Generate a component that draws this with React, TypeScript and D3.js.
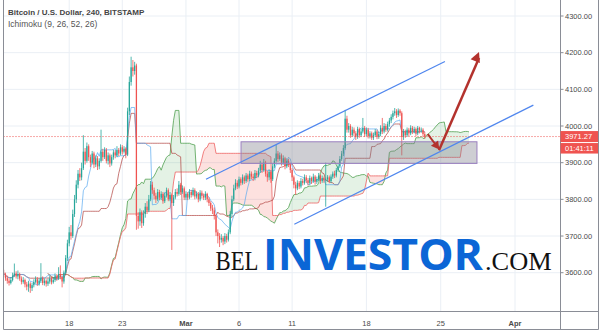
import React from "react";
import * as d3 from "d3";

const W = 600;
const H = 330;

// 4H candles, first candle 2019-02-11 20:00 UTC
const START = Date.UTC(2019, 1, 11, 20);
const STEP = 4 * 3600 * 1000;
const OPEN0 = 3600;

const closes = [
  3595, 3585, 3578, 3572, 3580, 3592, 3598, 3590, 3596,
  3584, 3575, 3580, 3568, 3562, 3570, 3558, 3566,
  3575, 3582, 3570, 3578, 3585, 3572,
  3578, 3570, 3576, 3584, 3574, 3580,
  3590, 3584, 3596, 3588, 3576,
  3600, 3640, 3680, 3710, 3700,
  3760, 3800, 3840, 3870, 3860, 3885,
  3930, 3905, 3945, 3915,
  3900, 3925, 3895, 3912, 3890, 3905,
  3930, 3915, 3935, 3905, 3920, 3898, 3915, 3928,
  3920, 3935, 3925, 3942, 3930, 3938, 3922,
  4040, 4120, 4160, 4150, 4165, 3755,
  3740, 3765, 3735, 3760, 3780, 3770, 3800, 3840, 3825,
  3810, 3800, 3820, 3805, 3815, 3795, 3810, 3825, 3800, 3812,
  3790, 3805, 3820, 3815, 3840, 3820, 3830, 3805,
  3815, 3805, 3820, 3812, 3825, 3808, 3815, 3800, 3818, 3810, 3805, 3815, 3800,
  3790, 3775, 3770, 3755, 3710, 3700, 3690, 3695,
  3685, 3700, 3690, 3710, 3760, 3800, 3830,
  3845, 3835, 3855, 3845,
  3860, 3850, 3865, 3855, 3870, 3862, 3858, 3872, 3865, 3878,
  3895, 3880, 3900, 3870, 3860, 3875, 3855, 3890, 3905,
  3925, 3910, 3920, 3900, 3912, 3890, 3905, 3895, 3880, 3860,
  3840, 3830, 3845, 3835,
  3850, 3845, 3860, 3852, 3845, 3858, 3850, 3862, 3848, 3855, 3865, 3850, 3858, 3852,
  3855, 3860, 3850, 3862, 3870, 3865, 3880, 3890,
  3910, 3925, 3940, 4020,
  3990, 4000, 3975, 3990, 3980, 3970, 3992, 3975, 3985,
  3995, 3978, 3990, 3972, 3980, 3968, 3975, 3985, 3970, 3978,
  3995, 3985, 4000, 3990, 4005, 4015, 4025, 4035,
  4040, 4030, 4042, 4035, 3970,
  3985, 3975, 3990, 3980, 3995, 3985, 3992, 3980,
  3995, 3988, 3990, 3978, 3971.27,
];

const highs = [
  3608, 3600, 3592, 3585, 3588, 3600, 3625, 3604, 3606,
  3600, 3590, 3588, 3584, 3575, 3578, 3574, 3572,
  3582, 3590, 3588, 3585, 3626, 3590,
  3584, 3582, 3584, 3592, 3588, 3588,
  3598, 3596, 3615, 3620, 3592,
  3606, 3648, 3690, 3725, 3730,
  3772, 3812, 3852, 3880, 3885, 3900,
  3975, 3940, 3955, 3950,
  3922, 3932, 3930, 3920, 3918, 3912,
  3990, 3938, 3942, 3940, 3928, 3925, 3922, 3935,
  3934, 3945, 3940, 3950, 3948, 3945, 3942,
  4050, 4135, 4189, 4180, 4175, 4170,
  3765, 3775, 3770, 3770, 3790, 3795, 3812, 3850, 3848,
  3832, 3818, 3828, 3826, 3822, 3820, 3818, 3832, 3830, 3820,
  3816, 3812, 3828, 3830, 3850, 3845, 3838, 3835,
  3822, 3820, 3828, 3826, 3832, 3830, 3822, 3820, 3825, 3824, 3816, 3822, 3818,
  3806, 3795, 3785, 3778, 3760, 3718, 3708, 3705,
  3700, 3708, 3706, 3718, 3768, 3810, 3840,
  3855, 3852, 3862, 3860,
  3868, 3865, 3872, 3870, 3878, 3876, 3870, 3880, 3878, 3886,
  3905, 3900, 3910, 3905, 3878, 3882, 3880, 3898, 3912,
  3948, 3932, 3928, 3925, 3920, 3916, 3912, 3910, 3900, 3885,
  3865, 3848, 3852, 3850,
  3858, 3856, 3868, 3866, 3858, 3865, 3862, 3870, 3866, 3862, 3872, 3868, 3865, 3862,
  3900, 3866, 3865, 3868, 3876, 3878, 3886, 3898,
  3918, 3932, 3948, 4044,
  4028, 4008, 4005, 3998, 3996, 3986, 3998, 3996, 3992,
  4022, 4000, 3996, 3995, 3986, 3985, 3982, 3992, 3990, 3985,
  4002, 4022, 4008, 4006, 4012, 4022, 4032, 4042,
  4049, 4046, 4048, 4046, 4040,
  3992, 3990, 3996, 3995, 4002, 4000, 3998, 3996,
  4000, 3998, 3996, 3994, 3984,
];

const lows = [
  3588, 3578, 3570, 3565, 3568, 3576, 3588, 3584, 3582,
  3578, 3568, 3570, 3560, 3552, 3548, 3545, 3550,
  3560, 3570, 3564, 3565, 3572, 3566,
  3565, 3562, 3564, 3570, 3568, 3570,
  3575, 3578, 3580, 3582, 3560,
  3570, 3595, 3632, 3672, 3690,
  3695, 3752, 3790, 3830, 3850, 3852,
  3880, 3895, 3900, 3905,
  3888, 3895, 3885, 3888, 3880, 3882,
  3900, 3905, 3910, 3898, 3895, 3888, 3892, 3908,
  3912, 3915, 3918, 3920, 3922, 3925, 3912,
  3918, 4030, 4110, 4135, 4140, 3717,
  3720, 3728, 3722, 3728, 3750, 3760, 3765, 3795, 3815,
  3800, 3790, 3795, 3798, 3798, 3788, 3790, 3805, 3795, 3795,
  3662, 3782, 3800, 3808, 3810, 3812, 3815, 3798,
  3798, 3798, 3800, 3805, 3808, 3800, 3802, 3792, 3795, 3802, 3798, 3798, 3792,
  3782, 3768, 3760, 3745, 3700, 3680, 3670, 3682,
  3675, 3678, 3682, 3685, 3705, 3752, 3795,
  3825, 3828, 3830, 3838,
  3840, 3842, 3845, 3848, 3850, 3855, 3850, 3852, 3858, 3860,
  3872, 3872, 3875, 3862, 3848, 3852, 3845, 3850, 3885,
  3900, 3902, 3905, 3892, 3895, 3882, 3885, 3888, 3872, 3850,
  3830, 3812, 3825, 3828,
  3830, 3838, 3840, 3845, 3838, 3840, 3842, 3845, 3840, 3842, 3850, 3842, 3845, 3845,
  3780, 3848, 3844, 3845, 3856, 3858, 3860, 3875,
  3885, 3905, 3918, 3935,
  3982, 3982, 3968, 3970, 3972, 3962, 3965, 3968, 3970,
  3980, 3970, 3972, 3966, 3966, 3962, 3962, 3970, 3964, 3965,
  3972, 3978, 3980, 3984, 3985, 3998, 4008, 4018,
  4028, 4022, 4025, 4028, 3920,
  3962, 3968, 3970, 3972, 3975, 3978, 3980, 3972,
  3975, 3980, 3982, 3970, 3965,
];

const lastPrice = 3971.27;
const countdown = "01:41:11";
const title = "Bitcoin / U.S. Dollar, 240, BITSTAMP";
const subtitle = "Ichimoku (9, 26, 52, 26)";
const ichimokuParams = [9, 26, 52, 26];

const priceTicks = [3600, 3700, 3800, 3900, 4000, 4100, 4200, 4300];
const dateTicks = [
  { t: Date.UTC(2019, 1, 18), label: "18", bold: false },
  { t: Date.UTC(2019, 1, 23), label: "23", bold: false },
  { t: Date.UTC(2019, 2, 1), label: "Mar", bold: true },
  { t: Date.UTC(2019, 2, 6), label: "6", bold: false },
  { t: Date.UTC(2019, 2, 11), label: "11", bold: false },
  { t: Date.UTC(2019, 2, 18), label: "18", bold: false },
  { t: Date.UTC(2019, 2, 25), label: "25", bold: false },
  { t: Date.UTC(2019, 3, 1), label: "Apr", bold: true },
];

// drawings (time, price)
const channelUpper = [
  { t: Date.UTC(2019, 2, 2, 21, 20), p: 3855 },
  { t: Date.UTC(2019, 2, 25, 9, 36), p: 4176 },
];
const channelLower = [
  { t: Date.UTC(2019, 2, 11, 5, 0), p: 3732 },
  { t: Date.UTC(2019, 3, 2, 17, 30), p: 4057 },
];
const zoneBox = { t0: Date.UTC(2019, 2, 6, 4, 30), t1: Date.UTC(2019, 2, 28, 10, 0), p0: 3898, p1: 3957 };
const smallArrow = [
  { t: Date.UTC(2019, 2, 23, 18, 43), p: 3978 },
  { t: Date.UTC(2019, 2, 24, 20, 53), p: 3936 },
];
const bigArrow = [
  { t: Date.UTC(2019, 2, 24, 20, 10), p: 3934 },
  { t: Date.UTC(2019, 2, 28, 14, 38), p: 4202 },
];

const PLOT = { left: 3.5, right: 560.5, top: 0, bottom: 311.5 };

function midRange(i: number, n: number) {
  const s = Math.max(0, i - n + 1);
  let hi = -Infinity;
  let lo = Infinity;
  for (let k = s; k <= i; k++) {
    if (highs[k] > hi) hi = highs[k];
    if (lows[k] < lo) lo = lows[k];
  }
  return (hi + lo) / 2;
}

function arrowHead(x1: number, y1: number, x2: number, y2: number, len: number, half: number) {
  const a = Math.atan2(y2 - y1, x2 - x1);
  const bx = x2 - len * Math.cos(a);
  const by = y2 - len * Math.sin(a);
  const px = -Math.sin(a) * half;
  const py = Math.cos(a) * half;
  return `M${x2},${y2}L${bx + px},${by + py}L${bx - px},${by - py}Z`;
}

export default function App() {
  const x = d3.scaleUtc().domain([Date.UTC(2019, 1, 18), Date.UTC(2019, 3, 1)]).range([69.2, 515]);
  const y = d3.scaleLinear().domain([3600, 4300]).range([272.7, 16]);
  const N = closes.length;
  const tAt = (j: number) => START + j * STEP;
  const opens = closes.map((c, i) => (i === 0 ? OPEN0 : closes[i - 1]));
  const [TEN, KIJ, SENB, DISP] = ichimokuParams;
  const tenkan = d3.range(N).map((i) => midRange(i, TEN));
  const kijun = d3.range(N).map((i) => midRange(i, KIJ));
  const lead = d3.range(N).map((i) => ({
    j: i + DISP - 1,
    a: (tenkan[i] + kijun[i]) / 2,
    b: midRange(i, SENB),
  }));
  const bw = Math.max(1, (x(tAt(1)) - x(tAt(0))) * 0.7);

  const line = d3.line<number>().x((_, i) => x(tAt(i))).y((v) => y(v));
  const leadLineA = d3.line<any>().x((d) => x(tAt(d.j))).y((d) => y(d.a));
  const leadLineB = d3.line<any>().x((d) => x(tAt(d.j))).y((d) => y(d.b));
  const greenArea = d3.area<any>().x((d) => x(tAt(d.j))).y0((d) => y(d.b)).y1((d) => y(Math.max(d.a, d.b)));
  const redArea = d3.area<any>().x((d) => x(tAt(d.j))).y0((d) => y(d.a)).y1((d) => y(Math.max(d.a, d.b)));

  const ua = channelUpper.map((d) => [x(d.t), y(d.p)]);
  const la = channelLower.map((d) => [x(d.t), y(d.p)]);
  const sa = smallArrow.map((d) => [x(d.t), y(d.p)]);
  const ba = bigArrow.map((d) => [x(d.t), y(d.p)]);
  const arrowColor = "#b3322d";
  const yLast = y(lastPrice);

  return (
    <svg width={W} height={H} style={{ display: "block", position: "absolute", left: 0, top: 0 }}
      fontFamily="'Liberation Sans', Arial, sans-serif">
      <rect x={0} y={0} width={W} height={H} fill="#ffffff" />
      <defs>
        <clipPath id="plotclip">
          <rect x={PLOT.left} y={PLOT.top} width={PLOT.right - PLOT.left} height={PLOT.bottom - PLOT.top} />
        </clipPath>
      </defs>
      {/* grid */}
      {priceTicks.map((p) => (
        <line key={"gh" + p} x1={PLOT.left} x2={PLOT.right} y1={y(p)} y2={y(p)} stroke="#eaeff5" strokeWidth={1} />
      ))}
      {dateTicks.map((d) => (
        <line key={"gv" + d.t} x1={x(d.t)} x2={x(d.t)} y1={PLOT.top} y2={PLOT.bottom} stroke="#eaeff5" strokeWidth={1} />
      ))}
      <g clipPath="url(#plotclip)">
        {/* cloud */}
        <path d={greenArea(lead) || ""} fill="#43a047" fillOpacity={0.14} />
        <path d={redArea(lead) || ""} fill="#f44336" fillOpacity={0.16} />
        <path d={leadLineA(lead) || ""} fill="none" stroke="#5aa65a" strokeOpacity={0.85} strokeWidth={1} />
        <path d={leadLineB(lead) || ""} fill="none" stroke="#ef6b6b" strokeOpacity={0.85} strokeWidth={1} />
        <path d={line(kijun) || ""} fill="none" stroke="#b0413e" strokeOpacity={0.7} strokeWidth={1} />
        <path d={line(tenkan) || ""} fill="none" stroke="#5aaaf0" strokeOpacity={0.7} strokeWidth={1} />
        {/* candles */}
        {closes.map((c, i) => {
          const o = opens[i];
          const up = c >= o;
          const col = up ? "#26a69a" : "#ef5350";
          const cx = x(tAt(i));
          const hi = Math.max(highs[i], o, c);
          const lo = Math.min(lows[i], o, c);
          const top = y(Math.max(o, c));
          const bot = y(Math.min(o, c));
          return (
            <g key={"c" + i}>
              <line x1={cx} x2={cx} y1={y(hi)} y2={y(lo)} stroke={col} strokeWidth={0.8} />
              <rect x={cx - bw / 2} y={top} width={bw} height={Math.max(0.8, bot - top)} fill={col} />
            </g>
          );
        })}
        {/* price line */}
        <line x1={PLOT.left} x2={PLOT.right} y1={yLast} y2={yLast} stroke="#ef5350" strokeWidth={1} strokeDasharray="1,2" />
        {/* zone */}
        <rect x={x(zoneBox.t0)} y={y(zoneBox.p1)} width={x(zoneBox.t1) - x(zoneBox.t0)} height={y(zoneBox.p0) - y(zoneBox.p1)}
          fill="#7d7f8c" fillOpacity={0.38} stroke="#9a80bf" strokeWidth={1} />
        {/* channel */}
        <line x1={ua[0][0]} y1={ua[0][1]} x2={ua[1][0]} y2={ua[1][1]} stroke="#4f86ee" strokeWidth={1.2} />
        <line x1={la[0][0]} y1={la[0][1]} x2={la[1][0]} y2={la[1][1]} stroke="#4f86ee" strokeWidth={1.2} />
        {/* arrows */}
        <line x1={sa[0][0]} y1={sa[0][1]} x2={sa[1][0] - 3} y2={sa[1][1] - 4} stroke={arrowColor} strokeWidth={2} />
        <path d={arrowHead(sa[0][0], sa[0][1], sa[1][0], sa[1][1], 8, 4.5)} fill={arrowColor} />
        <line x1={ba[0][0]} y1={ba[0][1]} x2={ba[1][0]} y2={ba[1][1] + 6} stroke={arrowColor} strokeWidth={2.5} />
        <path d={arrowHead(ba[0][0], ba[0][1], ba[1][0], ba[1][1], 10, 5)} fill={arrowColor} />
      </g>
      {/* frame and axes */}
      <line x1={PLOT.left} x2={PLOT.left} y1={0} y2={329.5} stroke="#8a8d96" strokeWidth={1} />
      <line x1={598.5} x2={598.5} y1={0} y2={329.5} stroke="#8a8d96" strokeWidth={1} />
      <line x1={PLOT.left} x2={598.5} y1={329.5} y2={329.5} stroke="#8a8d96" strokeWidth={1} />
      <line x1={PLOT.right} x2={PLOT.right} y1={0} y2={329.5} stroke="#8a8d96" strokeWidth={1} />
      <line x1={PLOT.left} x2={598.5} y1={PLOT.bottom} y2={PLOT.bottom} stroke="#8a8d96" strokeWidth={1} />
      {priceTicks.map((p) => (
        <g key={"yl" + p}>
          <line x1={PLOT.right} x2={PLOT.right + 3} y1={y(p)} y2={y(p)} stroke="#8a8d96" />
          <text x={565} y={y(p)} dy="0.35em" fontSize={7.5} fill="#4a4a4a">{p.toFixed(2)}</text>
        </g>
      ))}
      {dateTicks.map((d) => (
        <text key={"xl" + d.t} x={x(d.t)} y={323} dy="0.35em" textAnchor="middle" fontSize={7.5}
          fontWeight={d.bold ? "bold" : "normal"} fill="#4a4a4a">{d.label}</text>
      ))}
      {/* last price labels */}
      <rect x={PLOT.right} y={yLast - 5.5} width={37.5} height={11} fill="#ef5350" />
      <text x={565} y={yLast} dy="0.35em" fontSize={7.5} fill="#ffffff">{lastPrice.toFixed(2)}</text>
      <rect x={PLOT.right} y={yLast + 6.5} width={37.5} height={10.5} fill="#ef5350" />
      <text x={565} y={yLast + 11.8} dy="0.35em" fontSize={7.5} fill="#ffffff">{countdown}</text>
      {/* legend */}
      <text x={8} y={15} fontSize={8} fontWeight="bold" fill="#444">{title}</text>
      <text x={8} y={27} fontSize={8.5} fill="#555">{subtitle}</text>
      {/* watermark */}
      <text x={215.5} y={270} fontSize={27} fontFamily="'Liberation Serif', 'DejaVu Serif', serif" fill="#111"
        textLength={43} lengthAdjust="spacingAndGlyphs">BEL</text>
      <text x={263} y={270} fontSize={43} fontWeight="bold" fontFamily="'Open Sans', 'Liberation Sans', sans-serif"
        fill="#0b66d6" textLength={220} lengthAdjust="spacingAndGlyphs">INVESTOR</text>
      <text x={485} y={270} fontSize={24.5} fontFamily="'Liberation Serif', 'DejaVu Serif', serif" fill="#111"
        textLength={66.7} lengthAdjust="spacingAndGlyphs">.COM</text>
    </svg>
  );
}
